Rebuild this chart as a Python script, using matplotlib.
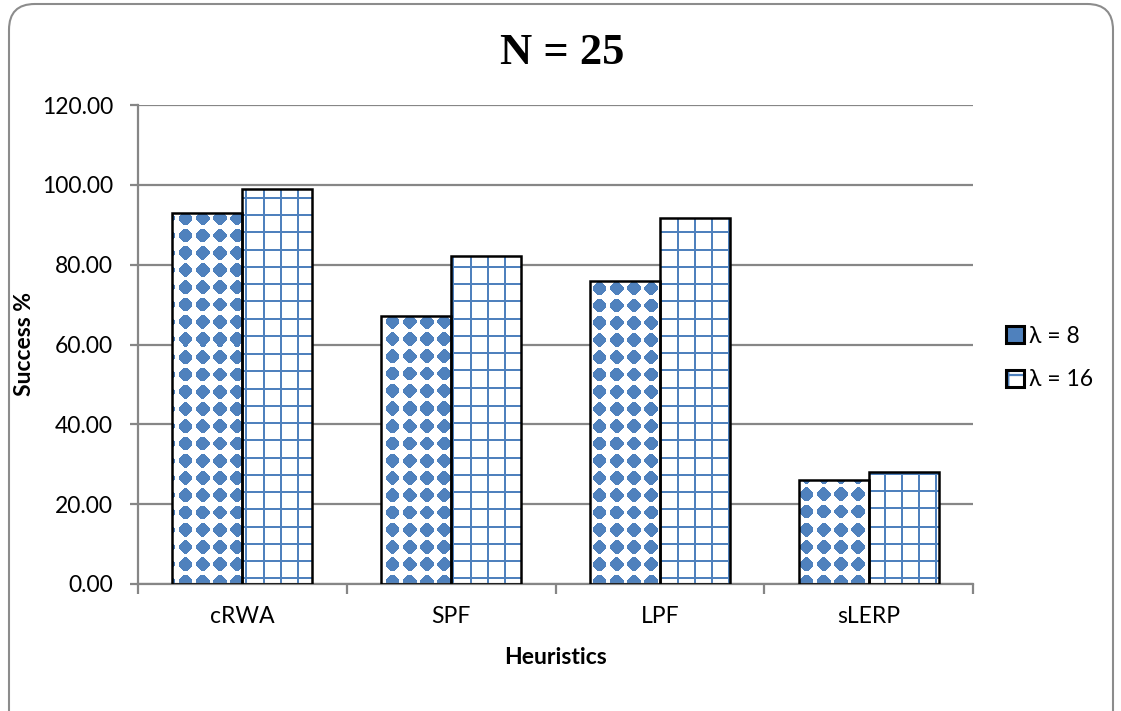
import numpy as np
import matplotlib.pyplot as plt
from matplotlib.patches import FancyBboxPatch, Patch
from matplotlib.legend_handler import HandlerTuple

# donnees
heuristics = ["cRWA", "SPF", "LPF", "sLERP"]
succes_l8 = [93.0, 67.2, 75.9, 26.1]
succes_l16 = [99.0, 82.2, 91.7, 28.1]
labels = ["λ = 8", "λ = 16"]

bleu = "#4F81BD"
gris = "#868686"
plt.rcParams['font.family'] = ['Lato', 'DejaVu Sans']
plt.rcParams['hatch.linewidth'] = 1.6

fig = plt.figure(figsize=(11.21, 7.11), dpi=100)
fig.patch.set_facecolor("white")

# cadre arrondi (le bas sort de l'image)
cadre = FancyBboxPatch((9 / 1121, -40 / 711), 1104 / 1121, 747 / 711,
                       boxstyle="round,pad=0,rounding_size=0.023",
                       transform=fig.transFigure, fc="white", ec="#8c8c8c", lw=1.5,
                       mutation_aspect=1121 / 711, zorder=-5)
fig.patches.append(cadre)

ax = fig.add_axes([138 / 1121, 127 / 711, 835 / 1121, 479 / 711])
ax.set_facecolor("none")
x = np.arange(len(heuristics))
w = 0.335

ax.set_xlim(-0.5, 3.5)
ax.set_ylim(0, 120)
ax.set_yticks(np.arange(0, 121, 20))
ax.set_yticklabels([f"{v:.2f}" for v in np.arange(0, 121, 20)], fontsize=16.5)
ax.yaxis.grid(True, color=gris, lw=1.6)
ax.set_axisbelow(True)
for s in ["top", "right"]:
    ax.spines[s].set_visible(False)
for s in ["left", "bottom"]:
    ax.spines[s].set_color(gris)
    ax.spines[s].set_linewidth(1.6)
ax.tick_params(axis="y", length=6, width=1.6, color=gris, pad=12)
ax.set_xticks(x)
ax.set_xticklabels(heuristics, fontsize=16.5)
ax.tick_params(axis="x", length=0, pad=16)
ax.set_xticks(np.arange(-0.5, 3.6, 1), minor=True)
ax.tick_params(axis="x", which="minor", length=7, width=1.6, color=gris, direction="out")

# motifs (en pixels de l'axe)
H, W = 479, 835
P = 17.25
rr, cc = np.mgrid[0:H, 0:W]
rgb = np.array([0x4F, 0x81, 0xBD]) / 255

# losanges pour lambda = 8
dx = ((cc - 47) + P / 2) % P - P / 2
dy = ((rr - 476) + P / 2) % P - P / 2
losanges = (np.abs(dx) + np.abs(dy) <= 8.3) & (np.maximum(np.abs(dx), np.abs(dy)) <= 6.9)
img8 = np.ones((H, W, 4))
img8[losanges, :3] = rgb

# quadrillage pour lambda = 16
grille = (((cc - 107) % P) < 2.0) | (((rr - 472) % P) < 2.0)
img16 = np.ones((H, W, 4))
img16[grille, :3] = rgb


def barres_motif(pos, vals, img):
    bars = ax.bar(pos, vals, w, color="white", edgecolor="none", zorder=2)
    for r in bars:
        im = ax.imshow(img, extent=(-0.5, 3.5, 0, 120), aspect="auto",
                       interpolation="nearest", zorder=2.5, origin="upper")
        im.set_clip_path(r)
    ax.bar(pos, vals, w, color="none", edgecolor="black", lw=1.8, zorder=3)


barres_motif(x - w / 2, succes_l8, img8)
barres_motif(x + w / 2, succes_l16, img16)
ax.set_xlim(-0.5, 3.5)
ax.set_ylim(0, 120)

ax.set_ylabel("Success %", fontsize=16.5, fontweight="bold", labelpad=5)
ax.set_xlabel("Heuristics", fontsize=16.5, fontweight="bold", labelpad=14)

h8 = (Patch(fc="white", ec="none"), Patch(fc=bleu, ec="none", hatch=None),
      Patch(fc="none", ec="black", lw=2.2))
h16 = (Patch(fc="white", ec=bleu, hatch="+", lw=0), Patch(fc="none", ec="black", lw=2.2))
fig.legend([h8, h16], labels, handler_map={tuple: HandlerTuple(ndivide=1)},
           loc="center left", bbox_to_anchor=(985 / 1121, 1 - 358 / 711),
           frameon=False, fontsize=16.5, handlelength=0.8, handleheight=0.8,
           handletextpad=0.2, labelspacing=1.0)

fig.text(562 / 1121, 1 - 53 / 711, "N = 25", fontsize=32, fontweight="bold",
         family="Liberation Serif", ha="center", va="center")

fig.savefig("out.png", dpi=100)
